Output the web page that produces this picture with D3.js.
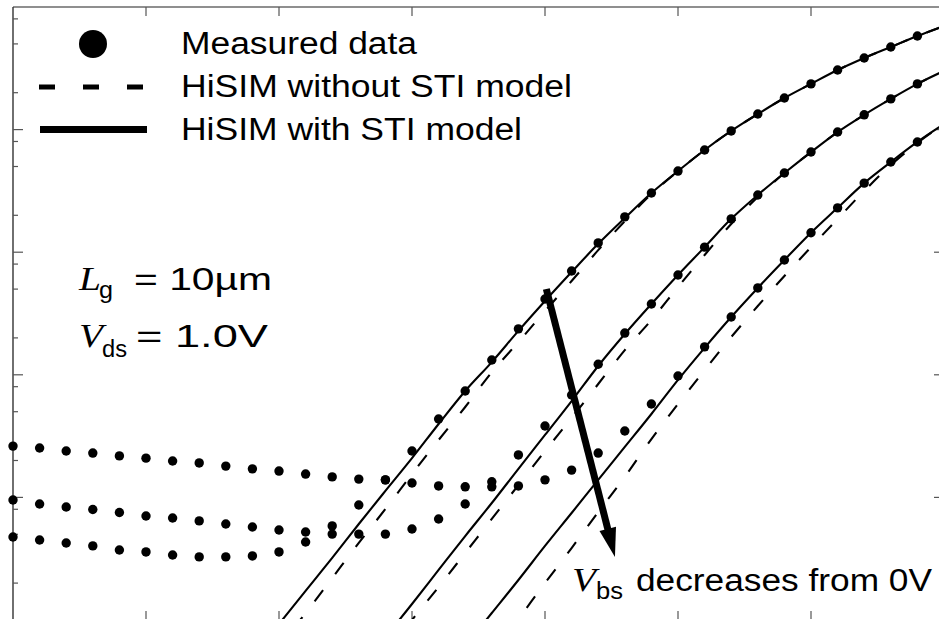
<!DOCTYPE html>
<html>
<head>
<meta charset="utf-8">
<script src="https://cdn.jsdelivr.net/npm/d3@7"></script>
<style>
  body { margin: 0; background: #fff; }
  svg { display: block; }
  text { font-family: "Liberation Sans", Arial, Helvetica, sans-serif; fill: #000; }
</style>
</head>
<body>
<svg id="chart" width="939" height="619"></svg>
<script>
// gate voltage of the measured points (V)
const vgMeasured = [0.00, 0.02, 0.04, 0.06, 0.08, 0.10, 0.12, 0.14, 0.16, 0.18, 0.20, 0.22,
    0.24, 0.26, 0.28, 0.30, 0.32, 0.34, 0.36, 0.38, 0.40, 0.42, 0.44, 0.46, 0.48, 0.50,
    0.52, 0.54, 0.56, 0.58, 0.60, 0.62, 0.64, 0.66, 0.68];

// measured drain current (A), three body biases
const idMeasuredA = [2.62e-9, 2.53e-9, 2.39e-9, 2.30e-9, 2.18e-9, 2.09e-9, 1.98e-9, 1.91e-9, 1.80e-9, 1.71e-9,
    1.64e-9, 1.55e-9, 1.47e-9, 1.41e-9, 1.39e-9, 1.31e-9, 1.24e-9, 1.22e-9, 1.22e-9, 1.24e-9,
    1.39e-9, 1.67e-9, 2.30e-9, 3.48e-9, 5.78e-9, 9.77e-9, 1.69e-8, 2.96e-8, 5.11e-8, 8.63e-8,
    1.44e-7, 2.30e-7, 3.66e-7, 5.44e-7, 7.93e-7];
const idMeasuredB = [9.53e-10, 8.83e-10, 8.35e-10, 7.96e-10, 7.53e-10, 7.05e-10, 6.79e-10, 6.43e-10, 6.07e-10, 5.74e-10,
    5.42e-10, 5.22e-10, 5.02e-10, 5.02e-10, 5.02e-10, 5.52e-10, 6.67e-10, 8.83e-10, 1.34e-9, 2.22e-9,
    3.82e-9, 6.84e-9, 1.22e-8, 2.19e-8, 3.78e-8, 6.52e-8, 1.10e-7, 1.87e-7, 2.93e-7, 4.43e-7,
    6.56e-7, 9.55e-7, 1.32e-6, 1.78e-6, 2.36e-6];
const idMeasuredC = [4.75e-10, 4.49e-10, 4.25e-10, 4.02e-10, 3.72e-10, 3.59e-10, 3.39e-10, 3.27e-10, 3.27e-10, 3.33e-10,
    3.59e-10, 4.33e-10, 5.85e-10, 8.67e-10, 1.39e-9, 2.39e-9, 4.36e-9, 7.38e-9, 1.32e-8, 2.37e-8,
    4.15e-8, 7.03e-8, 1.19e-7, 1.94e-7, 3.04e-7, 4.59e-7, 6.82e-7, 9.75e-7, 1.34e-6, 1.81e-6,
    2.36e-6, 3.06e-6, 3.84e-6, 4.72e-6, 5.80e-6];

// HiSIM curves (gate voltage and current)
const vgModelC = [0.18, 0.20, 0.22, 0.24, 0.26, 0.28, 0.30, 0.32, 0.34, 0.36, 0.38, 0.40, 0.42, 0.44,
    0.46, 0.48, 0.50, 0.52, 0.54, 0.56, 0.58, 0.60, 0.62, 0.64, 0.66, 0.68, 0.70];
const idWithStiC = [4.99e-11, 9.27e-11, 1.73e-10, 3.21e-10, 6.07e-10, 1.13e-9, 2.09e-9, 3.97e-9, 7.38e-9, 1.27e-8,
    2.28e-8, 4.00e-8, 6.89e-8, 1.17e-7, 1.90e-7, 3.04e-7, 4.59e-7, 6.82e-7, 9.75e-7, 1.34e-6,
    1.81e-6, 2.36e-6, 3.06e-6, 3.84e-6, 4.72e-6, 5.80e-6, 7.00e-6];
const idNoStiC = [3.12e-11, 6.03e-11, 1.14e-10, 2.20e-10, 4.25e-10, 8.04e-10, 1.55e-9, 2.94e-9, 5.46e-9, 1.05e-8,
    1.85e-8, 3.31e-8, 5.82e-8, 1.04e-7, 1.79e-7, 2.98e-7, 4.59e-7, 6.82e-7, 9.75e-7, 1.34e-6,
    1.81e-6, 2.36e-6, 3.06e-6, 3.84e-6, 4.72e-6, 5.80e-6, 7.00e-6];

const vgModelB = [0.28, 0.30, 0.32, 0.34, 0.36, 0.38, 0.40, 0.42, 0.44, 0.46, 0.48, 0.50, 0.52, 0.54,
    0.56, 0.58, 0.60, 0.62, 0.64, 0.66, 0.68, 0.70];
const idWithStiB = [7.26e-11, 1.35e-10, 2.56e-10, 4.84e-10, 9.00e-10, 1.71e-9, 3.23e-9, 6.11e-9, 1.18e-8, 2.15e-8,
    3.78e-8, 6.52e-8, 1.10e-7, 1.87e-7, 2.93e-7, 4.43e-7, 6.56e-7, 9.55e-7, 1.32e-6, 1.78e-6,
    2.36e-6, 3.01e-6];
const idNoStiB = [5.28e-11, 1.00e-10, 1.86e-10, 3.52e-10, 6.67e-10, 1.26e-9, 2.39e-9, 4.45e-9, 8.41e-9, 1.59e-8,
    2.80e-8, 5.20e-8, 9.48e-8, 1.70e-7, 2.82e-7, 4.43e-7, 6.56e-7, 9.55e-7, 1.32e-6, 1.78e-6,
    2.36e-6, 3.01e-6];

const vgModelA = [0.34, 0.36, 0.38, 0.40, 0.42, 0.44, 0.46, 0.48, 0.50, 0.52, 0.54, 0.56, 0.58, 0.60,
    0.62, 0.64, 0.66, 0.68, 0.70];
const idWithStiA = [6.14e-11, 1.14e-10, 2.12e-10, 4.02e-10, 7.46e-10, 1.39e-9, 2.58e-9, 4.79e-9, 9.08e-9, 1.66e-8,
    2.96e-8, 5.11e-8, 8.63e-8, 1.44e-7, 2.30e-7, 3.66e-7, 5.44e-7, 7.93e-7, 1.11e-6];
const idNoStiA = [2.73e-11, 5.28e-11, 1.02e-10, 2.00e-10, 3.86e-10, 7.60e-10, 1.47e-9, 2.99e-9, 5.78e-9, 1.09e-8,
    2.03e-8, 3.64e-8, 6.40e-8, 1.10e-7, 1.87e-7, 3.16e-7, 5.14e-7, 7.78e-7, 1.11e-6];

// axis ticks (unlabelled)
const xTicks = [0.1, 0.2, 0.3, 0.4, 0.5, 0.6];
const yMajorTicks = [1e-9, 1e-8, 1e-7, 1e-6];
const yMinorTicks = [2e-10, 5e-10, 8e-10, 2e-9, 5e-9, 8e-9, 2e-8, 5e-8, 8e-8, 2e-7, 5e-7, 8e-7, 2e-6, 5e-6, 8e-6];

// arrow: start and end (Vg, Id)
const arrowFrom = [0.401, 5.01e-8];
const arrowTo = [0.4526, 3.27e-10];

const svg = d3.select('#chart');
const plotL = 13, plotR = 944, plotT = 7, plotB = 620;

const x = d3.scaleLinear().domain([0, 0.7]).range([plotL, plotR]);
const y = d3.scaleLog().domain([1e-10, 1e-5]).range([plotB, plotT]);

svg.append('defs').append('clipPath').attr('id', 'plotClip')
    .append('rect')
    .attr('x', plotL).attr('y', plotT)
    .attr('width', plotR - plotL).attr('height', plotB - plotT);

// frame
const frame = svg.append('g').attr('stroke', '#555').attr('stroke-width', 1.4);
frame.append('line').attr('x1', plotL).attr('x2', plotR).attr('y1', plotT).attr('y2', plotT).attr('stroke', '#6a6a6a');
frame.append('line').attr('x1', plotL).attr('x2', plotL).attr('y1', plotT).attr('y2', plotB).attr('stroke', '#333');
frame.append('line').attr('x1', plotR).attr('x2', plotR).attr('y1', plotT).attr('y2', plotB);
frame.append('line').attr('x1', plotL).attr('x2', plotR).attr('y1', plotB).attr('y2', plotB);

// x ticks, top and bottom
const ticks = svg.append('g').attr('stroke', '#555').attr('stroke-width', 1.2);
ticks.append('g').selectAll('line').data(xTicks).enter().append('line')
    .attr('x1', d => x(d)).attr('x2', d => x(d))
    .attr('y1', plotT).attr('y2', plotT + 9);
ticks.append('g').selectAll('line').data(xTicks).enter().append('line')
    .attr('x1', d => x(d)).attr('x2', d => x(d))
    .attr('y1', plotB).attr('y2', plotB - 9);

// y ticks, left and right
[[plotL, 1], [plotR, -1]].forEach(([x0, dir]) => {
    ticks.append('g').selectAll('line').data(yMajorTicks).enter().append('line')
        .attr('x1', x0).attr('x2', x0 + dir * 10)
        .attr('y1', d => y(d)).attr('y2', d => y(d));
    ticks.append('g').selectAll('line').data(yMinorTicks).enter().append('line')
        .attr('x1', x0).attr('x2', x0 + dir * 5)
        .attr('y1', d => y(d)).attr('y2', d => y(d));
});

// model curves
const line = d3.line()
    .x(d => x(d[0]))
    .y(d => y(d[1]))
    .curve(d3.curveMonotoneX);

const curves = [
    {vg: vgModelC, id: idNoStiC, dashed: true},
    {vg: vgModelB, id: idNoStiB, dashed: true},
    {vg: vgModelA, id: idNoStiA, dashed: true},
    {vg: vgModelC, id: idWithStiC, dashed: false},
    {vg: vgModelB, id: idWithStiB, dashed: false},
    {vg: vgModelA, id: idWithStiA, dashed: false}
];

svg.append('g')
    .attr('clip-path', 'url(#plotClip)')
    .selectAll('path')
    .data(curves)
    .enter()
    .append('path')
    .attr('d', c => line(c.vg.map((v, i) => [v, c.id[i]])))
    .attr('fill', 'none')
    .attr('stroke', '#000')
    .attr('stroke-width', 2.1)
    .attr('stroke-dasharray', c => c.dashed ? '14,20' : null);

// measured points
const measured = [idMeasuredA, idMeasuredB, idMeasuredC]
    .flatMap(series => series.map((id, i) => [vgMeasured[i], id]));

svg.append('g')
    .selectAll('circle')
    .data(measured)
    .enter()
    .append('circle')
    .attr('cx', d => x(d[0]))
    .attr('cy', d => y(d[1]))
    .attr('r', 4.7)
    .attr('fill', '#000');

// arrow
const [ax0, ay0] = [x(arrowFrom[0]), y(arrowFrom[1])];
const [ax1, ay1] = [x(arrowTo[0]), y(arrowTo[1])];
const len = Math.hypot(ax1 - ax0, ay1 - ay0);
const ux = (ax1 - ax0) / len, uy = (ay1 - ay0) / len;
const headLen = 29, headHalf = 8.5;
const bx = ax1 - ux * headLen, by = ay1 - uy * headLen;
svg.append('line')
    .attr('x1', ax0).attr('y1', ay0)
    .attr('x2', bx + ux * 2).attr('y2', by + uy * 2)
    .attr('stroke', '#000').attr('stroke-width', 7);
svg.append('path')
    .attr('d', `M${ax1},${ay1}L${bx - uy * headHalf},${by + ux * headHalf}L${bx + uy * headHalf},${by - ux * headHalf}Z`)
    .attr('fill', '#000');

// text helper
function label(g, px, py, str, opts = {}) {
    const t = g.append('text')
        .attr('x', px).attr('y', py)
        .style('font-size', (opts.size || 31) + 'px')
        .text(str);
    if (opts.serif) t.style('font-family', '"Liberation Serif", "Times New Roman", serif').style('font-style', 'italic');
    if (opts.width) t.attr('textLength', opts.width).attr('lengthAdjust', 'spacingAndGlyphs');
    return t;
}

// legend
const legend = svg.append('g');
legend.append('circle').attr('cx', 93).attr('cy', 44).attr('r', 14).attr('fill', '#000');
legend.append('line')
    .attr('x1', 39).attr('x2', 146).attr('y1', 87).attr('y2', 87)
    .attr('stroke', '#000').attr('stroke-width', 5).attr('stroke-dasharray', '16,28');
legend.append('line')
    .attr('x1', 40).attr('x2', 147).attr('y1', 129.5).attr('y2', 129.5)
    .attr('stroke', '#000').attr('stroke-width', 7);
label(legend, 181, 54, 'Measured data', {width: 236});
label(legend, 181, 97, 'HiSIM without STI model', {width: 391});
label(legend, 181, 140, 'HiSIM with STI model', {width: 341});

// conditions
const cond = svg.append('g');
label(cond, 79, 290, 'L', {serif: true, size: 33, width: 22});
label(cond, 99, 298, 'g', {size: 23, width: 14});
label(cond, 134, 290, '= 10µm', {width: 138});
label(cond, 79, 347, 'V', {serif: true, size: 33, width: 24});
label(cond, 102, 357, 'ds', {size: 23, width: 25});
label(cond, 136, 347, '= 1.0V', {width: 132});

// arrow note
const note = svg.append('g');
label(note, 572, 591, 'V', {serif: true, size: 33, width: 24});
label(note, 596, 599, 'bs', {size: 23, width: 27});
label(note, 636, 591, 'decreases from 0V', {width: 296});
</script>
</body>
</html>
